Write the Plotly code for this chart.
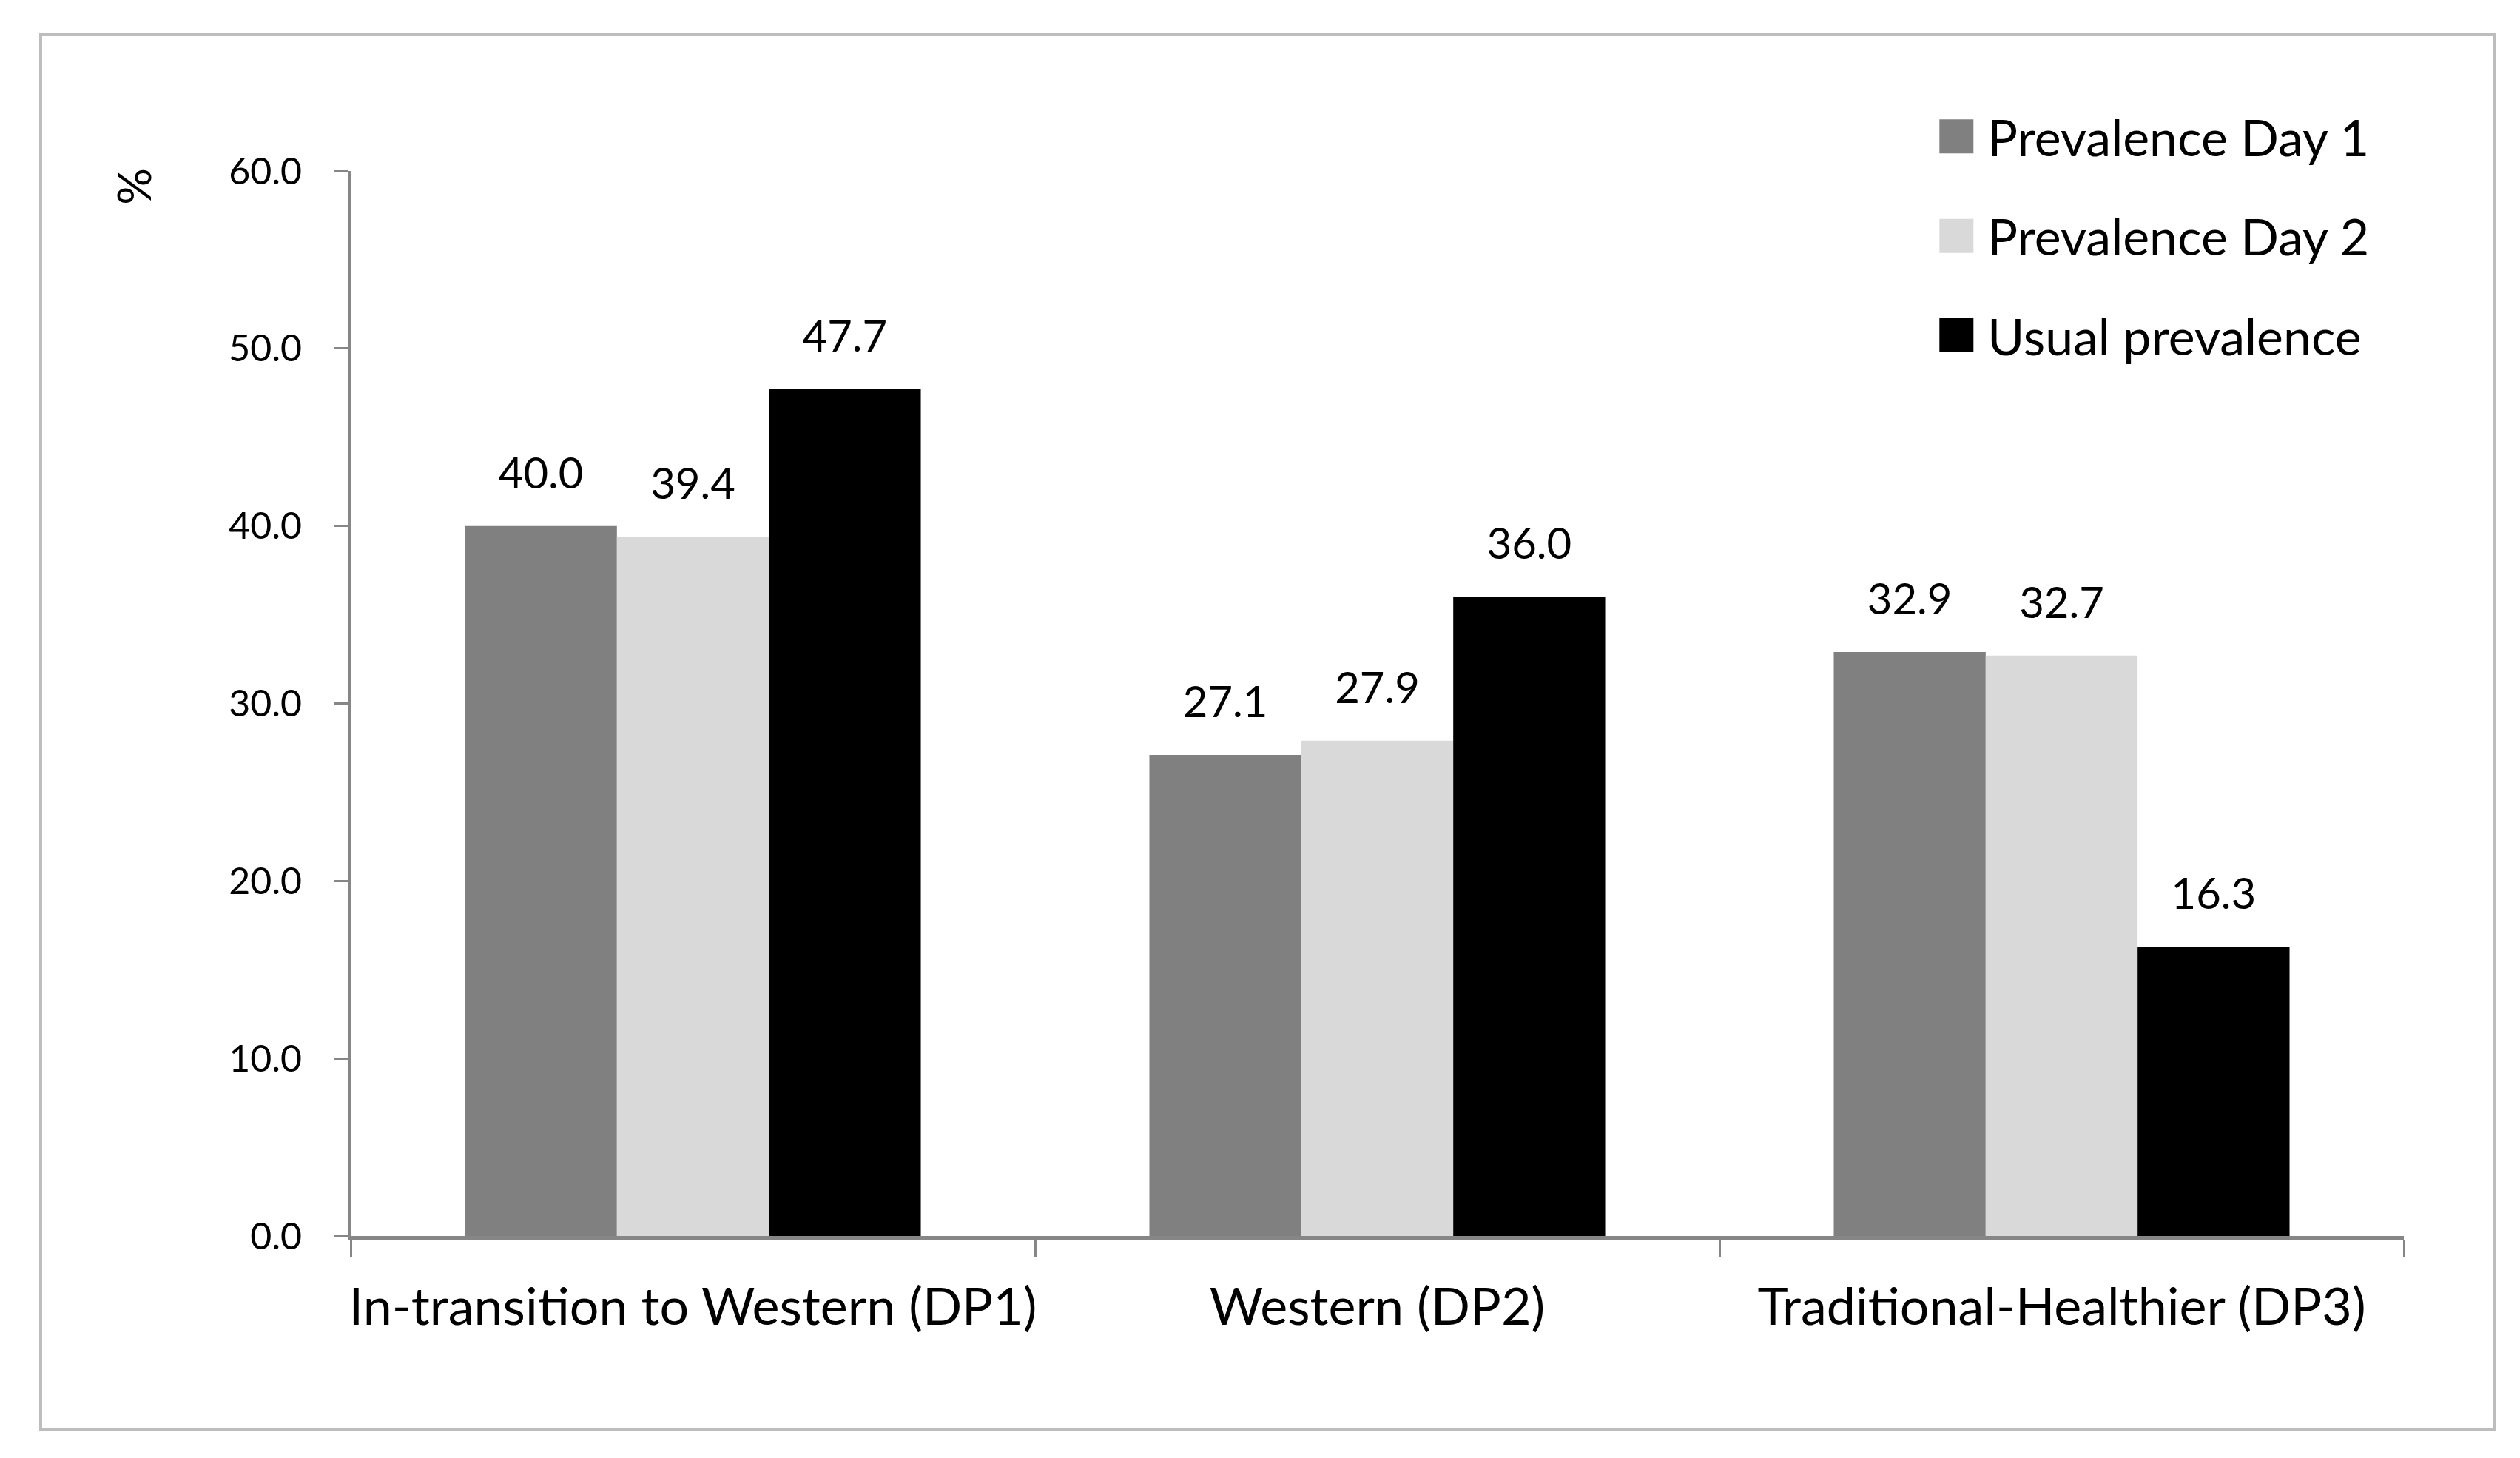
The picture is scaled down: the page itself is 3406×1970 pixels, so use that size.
import plotly.graph_objects as go

categories = ["In-transition to Western (DP1)", "Western (DP2)", "Traditional-Healthier (DP3)"]
series_names = ["Prevalence Day 1", "Prevalence Day 2", "Usual prevalence"]
day1 = [40.0, 27.1, 32.9]
day2 = [39.4, 27.9, 32.7]
usual = [47.7, 36.0, 16.3]
y_ticks = [0, 10, 20, 30, 40, 50, 60]

series_values = [day1, day2, usual]
colors = ["#808080", "#d9d9d9", "#000000"]
FONT = "Lato"

fig = go.Figure()
for name, vals, col in zip(series_names, series_values, colors):
    fig.add_trace(go.Bar(x=categories, y=vals, name=name, marker_color=col,
                         marker_line_width=0, legendgroup=name, hoverinfo="skip"))
for name, vals in zip(series_names, series_values):
    fig.add_trace(go.Scatter(x=categories, y=vals, mode="markers+text",
                             text=[f"{v:.1f}" for v in vals], textposition="top center",
                             marker=dict(size=57, opacity=0), showlegend=False,
                             textfont=dict(family=FONT, size=58, color="black"),
                             cliponaxis=False, hoverinfo="skip"))

fig.update_layout(
    width=3406, height=1970,
    margin=dict(l=466, r=165, t=223, b=308, autoexpand=False),
    paper_bgcolor="white", plot_bgcolor="white",
    barmode="group", bargap=0.334, bargroupgap=0,
    scattermode="group", scattergap=0.334,
    font=dict(family=FONT, color="black"),
    showlegend=True,
    legend=dict(x=0.772, y=1.0677, xanchor="left", yanchor="top",
                font=dict(family=FONT, size=68, color="black"),
                itemwidth=60, tracegroupgap=43, bgcolor="rgba(0,0,0,0)"),
    xaxis=dict(showline=True, linecolor="#868686", linewidth=6,
               ticks="outside", tickson="boundaries", ticklen=22, tickwidth=3,
               tickcolor="#868686", tickfont=dict(family=FONT, size=70, color="black"),
               tickangle=0, automargin=False,
               ticklabelstandoff=30, showgrid=False, zeroline=False),
    yaxis=dict(range=[0, 60], tickvals=y_ticks, tickformat=".1f",
               showline=True, linecolor="#868686", linewidth=4,
               ticks="outside", ticklen=18, tickwidth=3, tickcolor="#868686",
               tickfont=dict(family=FONT, size=50, color="black"), automargin=False,
               ticklabelstandoff=34, showgrid=False, zeroline=False),
    annotations=[dict(text="%", textangle=-90, xref="paper", yref="paper",
                      x=-0.106, y=0.9854, xanchor="center", yanchor="middle",
                      showarrow=False,
                      font=dict(family=FONT, size=62, color="black"))],
    shapes=[dict(type="rect", xref="paper", yref="paper",
                 x0=-0.151, x1=1.0443, y0=-0.1814, y1=1.1286,
                 line=dict(color="#bdbdbd", width=4), layer="below")],
)

post = """
document.querySelectorAll('.legend .legendpoints path').forEach(function(p){
  p.setAttribute('d', 'M23,23H-23V-23H23Z');
  p.setAttribute('transform', 'translate(28,0)');
});
"""
fig.write_html("out.html", post_script=post, config={"responsive": False})
